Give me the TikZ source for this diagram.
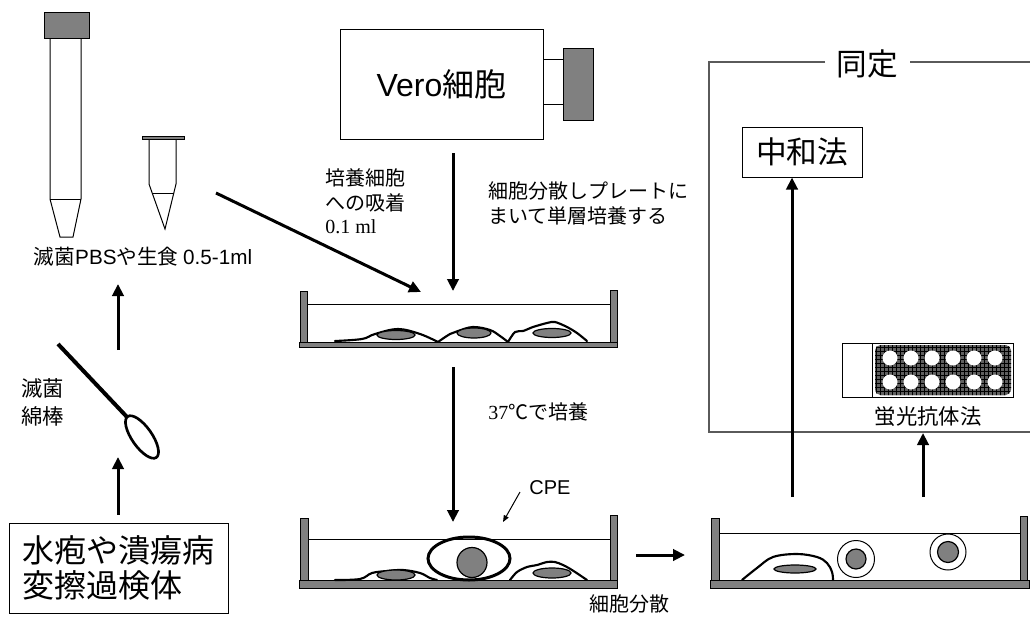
\documentclass[tikz,border=0pt]{standalone}
\usepackage{fontspec}
\setmainfont{Noto Sans CJK JP}
\newfontfamily\lat{Liberation Sans}
\newfontfamily\ser{Liberation Serif}
\usetikzlibrary{arrows.meta,patterns}
\definecolor{cellgray}{RGB}{128,128,128}
\definecolor{framegray}{RGB}{90,90,90}
\begin{document}
\begin{tikzpicture}[x=0.75pt,y=-0.75pt,
  flow/.style={line width=2.25pt,-{Triangle[length=9pt,width=8.5pt]}},
  thinline/.style={line width=0.75pt},
  wall/.style={fill=cellgray,draw=black,line width=0.75pt},
  membrane/.style={line width=1.6pt,line join=round,line cap=round},
  nucleus/.style={fill=cellgray,draw=black,line width=0.9pt},
  txt/.style={inner sep=0pt,font=\fontsize{15}{19}\selectfont},
  bigtxt/.style={inner sep=0pt,font=\fontsize{23}{27}\selectfont},
  frame/.style={draw=framegray,line width=0.9pt}
]
\useasboundingbox (0,0) rectangle (1030,635);

% ---------- sample tubes ----------
\draw[thinline,fill=cellgray] (44,13) rectangle (89,39);
\draw[thinline] (50,39) -- (50,199) -- (60,237) -- (73,237) -- (81,199) -- (81,39);
\draw[thinline] (50,199) -- (81,199);
\draw[thinline,fill=cellgray] (142,136) rectangle (184,139);
\draw[thinline] (149,139) -- (149,184) -- (165,229) -- (176,184) -- (176,139);
\draw[thinline] (153,193) -- (173,193);
\node[txt,font=\fontsize{15.5}{19}\selectfont] (pbs) at (143,257) {滅菌{\lat PBS}や生食 {\lat 0.5-1ml}};

% ---------- swab and specimen ----------
\draw[line width=3pt] (58,344) -- (127,417);
\draw[line width=2pt,rotate around={-55:(142,437)}] (142,437) ellipse [x radius=25,y radius=10];
\node[txt,align=left,font=\fontsize{16}{21}\selectfont] (swab) at (43,402) {滅菌\\綿棒};
\node[draw,thinline,minimum width=164.25pt,minimum height=67.5pt,inner sep=0pt,
      align=left,font=\fontsize{24}{26.5}\selectfont] (spec) at (118.5,568)
      {水疱や潰瘍病\\変擦過検体};
\coordinate (a1s) at (118,350);
\coordinate (a1e) at (118,284);
\draw[flow] (a1s) -- (a1e);
\coordinate (a2e) at (118,457);
\draw[flow,shorten <=6pt] (spec.north -| a2e) -- (a2e);

% ---------- Vero flask ----------
\node[draw,thinline,minimum width=152.25pt,minimum height=81.75pt,inner sep=0pt,
      font=\fontsize{24}{28}\selectfont] (vero) at (441.5,84.5) {{\lat Vero}細胞};
\draw[thinline] (543,60) -- (563,60) (543,104) -- (563,104);
\draw[thinline,fill=cellgray] (563,49) rectangle (593,120);

\node[txt,align=left,anchor=north west] (adsorb) at (325,168)
      {培養細胞\\への吸着\\[-2pt]{\ser 0.1 ml}};
\node[txt,align=left,anchor=north west] (seed) at (488,181)
      {細胞分散しプレートに\\まいて単層培養する};
\coordinate (v1) at (453,153);
\coordinate (v2) at (453,291);
\draw[flow] (v1) -- (v2);
\coordinate (d1) at (216,193);
\coordinate (d2) at (421,292);
\draw[flow] (d1) -- (d2);

% ---------- dish 1: monolayer ----------
\draw[wall] (300,291) rectangle (307,342);
\draw[wall] (610,290) rectangle (617,342);
\draw[wall] (299,342) rectangle (617,347);
\draw[thinline] (307,304) -- (610,304);
\draw[membrane] plot[smooth,tension=0.6] coordinates
  {(335,341) (362,339) (375,334) (398,329) (420,334) (438,342)};
\draw[membrane] plot[smooth,tension=0.6] coordinates
  {(438,342) (450,334) (458,331) (473,327) (490,330) (500,336) (508,342)};
\draw[membrane] plot[smooth,tension=0.5] coordinates
  {(508,342) (515,332) (523,331) (533,327) (547,323) (555,322) (567,327) (577,333) (587,341)};
\draw[nucleus] (396,335) ellipse [x radius=19,y radius=4.5];
\draw[nucleus] (474,333) ellipse [x radius=17,y radius=5];
\draw[nucleus] (552,333) ellipse [x radius=19,y radius=4.5];

\coordinate (c1) at (453,367);
\coordinate (c2) at (453,522);
\draw[flow] (c1) -- (c2);
\node[txt,anchor=west] (incub) at (488,412) {{\ser 37}℃で培養};

% ---------- dish 2: CPE ----------
\draw[wall] (300,518) rectangle (308,581);
\draw[wall] (610,515) rectangle (617,581);
\draw[wall] (299,580) rectangle (617,588);
\draw[thinline] (308,539) -- (610,539);
\draw[membrane] plot[smooth,tension=0.6] coordinates
  {(335,580) (360,579) (372,573) (387,571) (403,570) (420,573) (430,578) (437,580)};
\draw[membrane] plot[smooth,tension=0.5] coordinates
  {(510,580) (517,572) (527,567) (537,565) (547,562) (555,562) (563,565) (572,570) (587,580)};
\draw[nucleus] (396,575) ellipse [x radius=19,y radius=5];
\draw[nucleus] (552,573) ellipse [x radius=19,y radius=5];
\draw[line width=2.25pt] (469,558.5) ellipse [x radius=41,y radius=21.5];
\draw[nucleus] (472,562.5) circle [radius=15];
\node[txt] (cpe) at (550,488) {\lat CPE};
\coordinate (p1) at (520,492);
\coordinate (p2) at (503,522);
\draw[line width=0.75pt,-{Triangle[length=5pt,width=4pt]}] (p1) -- (p2);

\coordinate (h1) at (636,555);
\coordinate (h2) at (685,555);
\draw[flow] (h1) -- (h2);
\node[txt] (disperse) at (629,604) {細胞分散};

% ---------- dish 3: dispersed cells ----------
\draw[wall] (711,518) rectangle (719,581);
\draw[wall] (1020,516) rectangle (1027,581);
\draw[wall] (710,580) rectangle (1029,588);
\draw[thinline] (719,533) -- (1020,533);
\draw[membrane] plot[smooth,tension=0.6] coordinates
  {(742,580) (757,568) (773,557) (797,554) (817,557) (827,563) (832,572) (833,580)};
\draw[nucleus] (795,569) ellipse [x radius=21,y radius=4];
\draw[thinline] (856,559) circle [radius=18.5];
\draw[nucleus] (856,559) circle [radius=10];
\draw[thinline] (948,552) circle [radius=18];
\draw[nucleus] (948,552) circle [radius=10.5];

% ---------- identification ----------
\draw[frame] (825,62) -- (709,62) -- (709,432) -- (1030,432);
\draw[frame] (910,62) -- (1030,62);
\node[bigtxt] (ident) at (867,64) {同定};
\node[draw,thinline,minimum width=90pt,minimum height=37.5pt,inner sep=0pt,
      font=\fontsize{23}{27}\selectfont] (neut) at (802,152) {中和法};

\draw[thinline] (842,343) rectangle (1013,397);
\draw[thinline] (872,343) -- (872,397);
\fill[cellgray!75!black,rounded corners=4pt] (875,345) rectangle (1011,395);
\fill[pattern=grid,pattern color=black,rounded corners=4pt] (875,345) rectangle (1011,395);
\foreach \xx in {890,911,932,953,974,995}
  \foreach \yy in {358,382}
    \fill[white] (\xx,\yy) circle [radius=7.5];
\node[txt,font=\fontsize{16}{20}\selectfont] (fa) at (928,417) {蛍光抗体法};

\coordinate (u1) at (792,497);
\draw[flow] (u1) -- (u1 |- neut.south);
\coordinate (u2) at (923,497);
\coordinate (u2e) at (923,433);
\draw[flow] (u2) -- (u2e);
\end{tikzpicture}
\end{document}
